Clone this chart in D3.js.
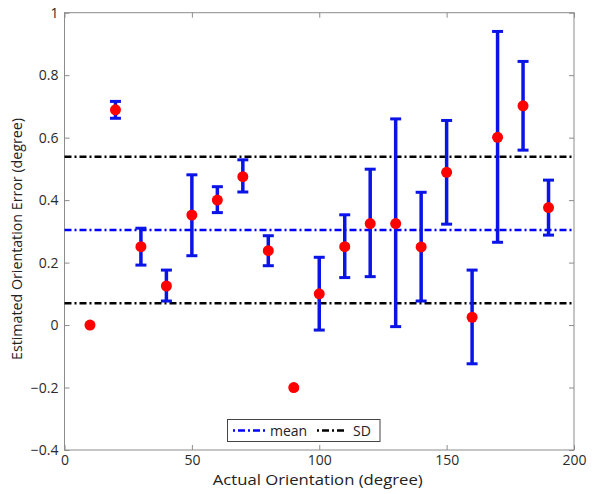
<!DOCTYPE html>
<html><head><meta charset="utf-8">
<script src="https://cdn.jsdelivr.net/npm/d3@7"></script>
<style>body{margin:0;background:#fff;} text{font-family:"Open Sans","DejaVu Sans",sans-serif;}</style>
</head><body>
<svg id="c" width="593" height="494"></svg>
<script>
const orientations = [10,20,30,40,50,60,70,80,90,100,110,120,130,140,150,160,170,180,190];
const meanErr = [0,0.689,0.251,0.125,0.352,0.40,0.475,0.238,-0.2,0.10,0.251,0.325,0.325,0.25,0.489,0.025,0.601,0.702,0.376];
const lowerErr = [null,0.662,0.192,0.077,0.222,0.36,0.426,0.19,null,-0.016,0.152,0.155,-0.005,0.077,0.323,-0.124,0.265,0.56,0.288];
const upperErr = [null,0.716,0.31,0.176,0.481,0.443,0.529,0.286,null,0.217,0.353,0.499,0.66,0.425,0.655,0.176,0.94,0.844,0.464];
const overallMean = 0.304;
const sdLines = [0.539, 0.0695];
const xTicks = [0,50,100,150,200];
const yTicks = [-0.4,-0.2,0,0.2,0.4,0.6,0.8,1];
const legendLabels = ["mean","SD"];

const svg = d3.select("#c");
const L=64.5, R=574, T=12.7, B=450;
const x = d3.scaleLinear().domain([0,200]).range([L,R]);
const y = d3.scaleLinear().domain([-0.4,1]).range([B,T]);
const dash = "7,3,2,3";

svg.append("rect").attr("x",L).attr("y",T).attr("width",R-L).attr("height",B-T)
  .attr("fill","none").attr("stroke","#8c8c8c").attr("stroke-width",1);

const fmt = d => d===0 ? "0" : (d<0 ? "\u2212"+String(Math.abs(+d.toFixed(1))) : String(+d.toFixed(1)));
const tl = 5;
const gx = svg.append("g").attr("transform",`translate(0,${B})`)
  .call(d3.axisBottom(x).tickValues(xTicks).tickSize(-tl).tickPadding(5.5).tickFormat(d=>d));
const gy = svg.append("g").attr("transform",`translate(${L},0)`)
  .call(d3.axisLeft(y).tickValues(yTicks).tickSize(-tl).tickPadding(6).tickFormat(fmt));
const gx2 = svg.append("g").attr("transform",`translate(0,${T})`)
  .call(d3.axisTop(x).tickValues(xTicks).tickSize(-tl).tickFormat(""));
const gy2 = svg.append("g").attr("transform",`translate(${R},0)`)
  .call(d3.axisRight(y).tickValues(yTicks).tickSize(-tl).tickFormat(""));
[gx,gy,gx2,gy2].forEach(g=>{
  g.select(".domain").remove();
  g.selectAll(".tick line").attr("stroke","#8c8c8c");
  g.selectAll(".tick text").attr("fill","#2a2a2a").style("font-size","14px")
   .style("font-family","'Open Sans','DejaVu Sans',sans-serif");
});

svg.append("line").attr("x1",L).attr("x2",R).attr("y1",y(overallMean)).attr("y2",y(overallMean))
  .attr("stroke","#0000ff").attr("stroke-width",2.5).attr("stroke-dasharray",dash);
sdLines.forEach(v=>{
  svg.append("line").attr("x1",L).attr("x2",R).attr("y1",y(v)).attr("y2",y(v))
    .attr("stroke","#000").attr("stroke-width",2.5).attr("stroke-dasharray",dash);
});

const data = orientations.map((o,i)=>({o,m:meanErr[i],lo:lowerErr[i],hi:upperErr[i]}));
const eb = svg.append("g").attr("stroke","#0a14e6").attr("stroke-width",3.5);
data.filter(d=>d.lo!==null).forEach(d=>{
  const cx = x(d.o);
  eb.append("line").attr("x1",cx).attr("x2",cx).attr("y1",y(d.lo)).attr("y2",y(d.hi));
  eb.append("line").attr("x1",cx-5.5).attr("x2",cx+5.5).attr("y1",y(d.lo)).attr("y2",y(d.lo)).attr("stroke-width",3);
  eb.append("line").attr("x1",cx-5.5).attr("x2",cx+5.5).attr("y1",y(d.hi)).attr("y2",y(d.hi)).attr("stroke-width",3);
});
svg.append("g").selectAll("circle").data(data).join("circle")
  .attr("cx",d=>x(d.o)).attr("cy",d=>y(d.m)).attr("r",5.5).attr("fill","#ff0000");

const lg = svg.append("g");
lg.append("rect").attr("x",227.5).attr("y",419.5).attr("width",152.5).attr("height",22)
  .attr("fill","#fff").attr("stroke","#444").attr("stroke-width",1);
lg.append("line").attr("x1",233).attr("x2",265).attr("y1",430.5).attr("y2",430.5)
  .attr("stroke","#0000ff").attr("stroke-width",2.5).attr("stroke-dasharray","2,3,7,3");
lg.append("text").attr("x",270).attr("y",435.5).text(legendLabels[0]).style("font-size","14px").attr("fill","#222");
lg.append("line").attr("x1",317).attr("x2",346).attr("y1",430.5).attr("y2",430.5)
  .attr("stroke","#000").attr("stroke-width",2.5).attr("stroke-dasharray","2,3,7,3");
lg.append("text").attr("x",353).attr("y",435.5).text(legendLabels[1]).style("font-size","14px").attr("fill","#222");

svg.append("text").attr("x",317.7).attr("y",485).attr("text-anchor","middle")
  .attr("textLength",210).attr("lengthAdjust","spacingAndGlyphs")
  .style("font-size","15px").attr("fill","#222").text("Actual Orientation (degree)");
svg.append("text").attr("transform",`translate(22,239) rotate(-90)`).attr("text-anchor","middle")
  .attr("textLength",242).attr("lengthAdjust","spacingAndGlyphs")
  .style("font-size","14px").attr("fill","#222").text("Estimated Orientation Error (degree)");
</script>
</body></html>
